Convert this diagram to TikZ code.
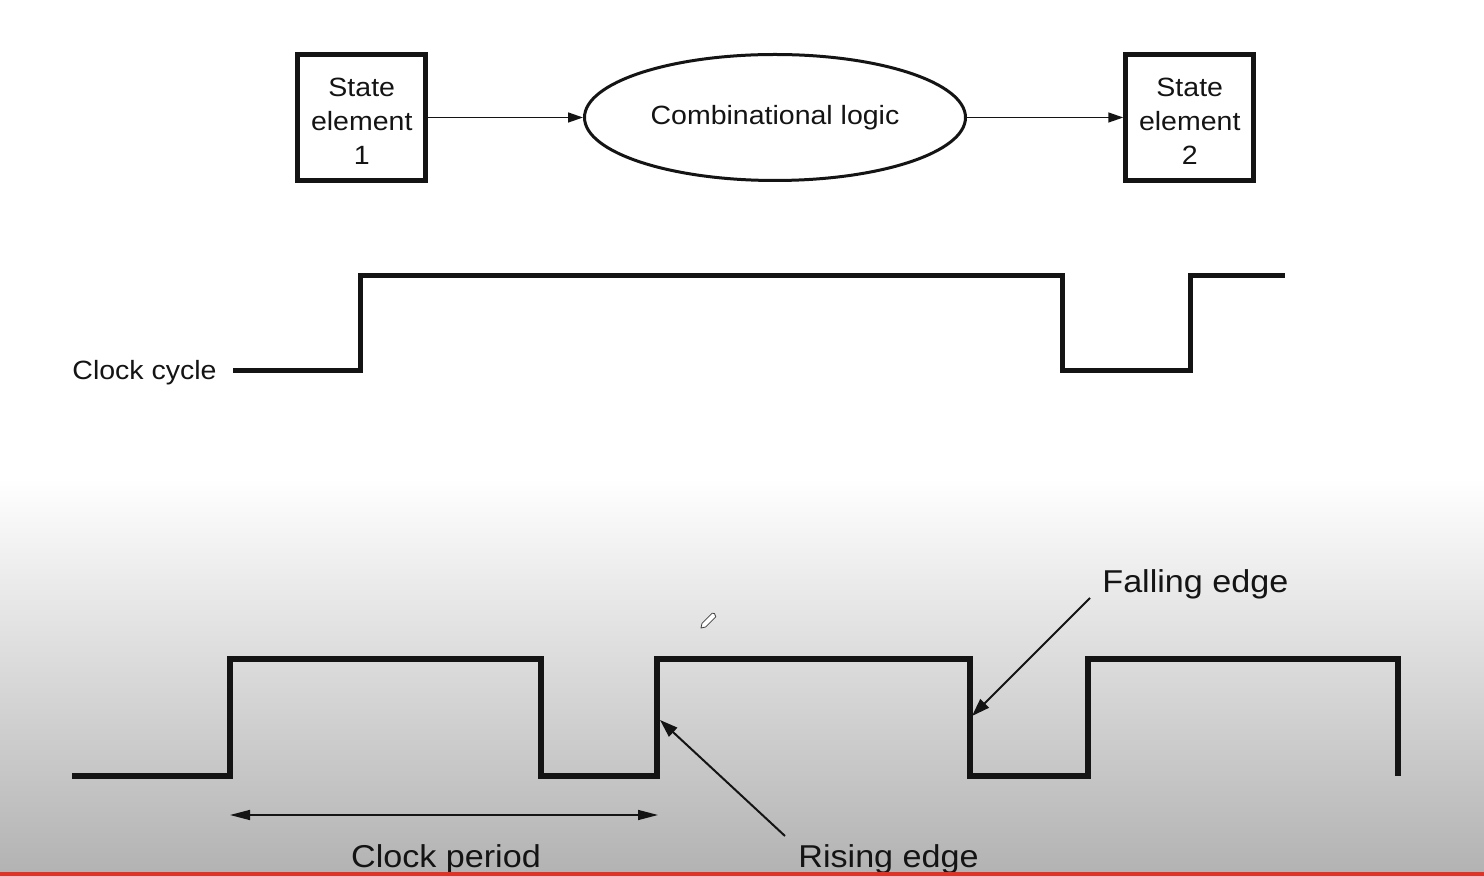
\documentclass[tikz,border=0pt]{standalone}
\usepackage{fontspec}
\setmainfont{Liberation Sans}[FakeStretch=1.08]
\usetikzlibrary{arrows.meta,shapes.geometric}
\definecolor{bggray}{RGB}{178,178,178}
\definecolor{redline}{RGB}{222,52,40}
\definecolor{ink}{RGB}{20,20,20}
\begin{document}
\begin{tikzpicture}[x=0.5pt,y=-0.5pt,
  topfont/.style={font=\fontsize{13.2}{16.8}\selectfont},
  stbox/.style={draw=ink,line width=2.5pt,minimum width=64pt,minimum height=63pt,inner sep=0pt,align=center,topfont,text=ink},
  logic/.style={draw=ink,ellipse,line width=1.5pt,minimum width=190.5pt,minimum height=63pt,inner sep=0pt,topfont,text=ink},
  thinarr/.style={draw=ink,line width=0.75pt,-{Triangle[length=7.5pt,width=5pt]}},
  wave/.style={draw=ink,line width=2.5pt,line join=miter,line cap=butt},
  bigwave/.style={draw=ink,line width=3pt,line join=miter,line cap=butt},
  lbl/.style={inner sep=0pt,font=\fontsize{15.8}{19}\selectfont,text=ink},
  edgearr/.style={draw=ink,line width=1pt,-{Triangle[length=9pt,width=6pt]}},
  dimarr/.style={draw=ink,line width=0.75pt,{Triangle[length=10pt,width=5pt]}-{Triangle[length=10pt,width=5pt]}},
]
\useasboundingbox (0,0) rectangle (1484,876);
% background
\fill[white] (0,0) rectangle (1484,480);
\shade[top color=white,bottom color=bggray] (0,478) rectangle (1484,876);

% top block diagram
\node[stbox] (s1) at (361.75,117.5) {\rule{0pt}{13pt}State\\element\\1};
\node[logic] (cl) at (775,117.5) {Combinational logic};
\node[stbox] (s2) at (1189.75,117.5) {\rule{0pt}{13pt}State\\element\\2};
\draw[thinarr] (s1.east) -- (cl.west);
\draw[thinarr] (cl.east) -- (s2.west);

% clock cycle
\node[anchor=base east,inner sep=0pt,topfont,text=ink] (cc) at (217,380) {Clock cycle};
\draw[wave] (233,371) -- (360.5,371) -- (360.5,276) -- (1062,276) -- (1062,371) -- (1190,371) -- (1190,276) -- (1285,276);

% bottom clock
\draw[bigwave] (72,776) -- (230,776) -- (230,659) -- (541,659) -- (541,776) -- (657,776) -- (657,659) -- (970,659) -- (970,776) -- (1088,776) -- (1088,659) -- (1398,659) -- (1398,776);

% clock period
\coordinate (cpL) at (230,815);
\coordinate (cpR) at (658,815);
\draw[dimarr] (cpL) -- (cpR);
\node[lbl,anchor=base] (cp) at (446,867) {Clock period};

% rising edge
\node[lbl,anchor=base west] (re) at (798,867) {Rising edge};
\coordinate (reS) at (785,836);
\coordinate (reT) at (660,720);
\draw[edgearr] (reS) -- (reT);

% falling edge
\node[lbl,anchor=base west] (fe) at (1102,593) {Falling edge};
\coordinate (feS) at (1090,598);
\coordinate (feT) at (972,716);
\draw[edgearr] (feS) -- (feT);

% pencil cursor
\draw[line width=0.4pt,draw=black!75,fill=white,line join=round]
  (701,628) -- (702,623.4) -- (712.2,613.2) -- (714.5,613.6) -- (715.8,616.8) -- (705.6,627) -- cycle;

% red line at bottom
\fill[redline] (0,872) rectangle (1484,876);
\end{tikzpicture}
\end{document}
